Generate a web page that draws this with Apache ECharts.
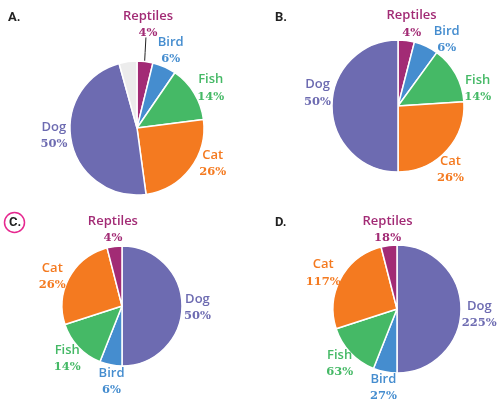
<!DOCTYPE html>
<html>
<head>
<meta charset="utf-8">
<script src="https://cdn.jsdelivr.net/npm/echarts@6/dist/echarts.min.js"></script>
<style>
  html, body { margin: 0; padding: 0; background: #fff; }
  #chart { width: 501px; height: 402px; }
</style>
</head>
<body>
<div id="chart"></div>
<script>
// Pet ownership shares, drawn four different ways
const petsA = ['Reptiles', 'Bird', 'Fish', 'Cat', 'Dog'];
const valuesA = [4, 6, 14, 26, 50];
const otherA = 4.5;            // unlabelled grey wedge in panel A

const petsB = ['Reptiles', 'Bird', 'Fish', 'Cat', 'Dog'];
const valuesB = [4, 6, 14, 26, 50];

const petsC = ['Dog', 'Bird', 'Fish', 'Cat', 'Reptiles'];
const valuesC = [50, 6, 14, 26, 4];

const petsD = ['Dog', 'Bird', 'Fish', 'Cat', 'Reptiles'];
const valuesD = [225, 27, 63, 117, 18];

const panelLetters = ['A.', 'B.', 'C.', 'D.'];

const COLORS = {
  Reptiles: '#a22b75',
  Bird: '#458dcf',
  Fish: '#45b966',
  Cat: '#f47a20',
  Dog: '#6d6bb1'
};
const OTHER_COLOR = '#ececec';

// Direction (degrees clockwise from 12 o'clock) in which each label sits
const labelDirA = [5.5, 24, 62, 115, 265];
const labelDirB = [8.4, 37, 78, 140, 279];
const labelDirC = [91.5, 188, 226.5, 292.6, 354];
const labelDirD = [94, 190, 227, 296.6, 354];

function pieSeries(names, values, center, radius, gap, labelDir, other, pointer) {
  const data = names.map((n, i) => {
    const item = {
      name: n,
      value: values[i],
      itemStyle: { color: COLORS[n] },
      label: { color: COLORS[n] }
    };
    if (pointer && pointer.name === n) {
      item.labelLine = { show: true, lineStyle: { color: '#222', width: 1 } };
    }
    return item;
  });
  if (other) {
    data.push({
      name: '', value: other,
      itemStyle: { color: OTHER_COLOR },
      label: { show: false }, labelLine: { show: false }
    });
  }
  const all = data.map(d => d.value);
  const total = all.reduce((a, b) => a + b, 0);
  const mids = [];
  let cum = 0;
  all.forEach(v => { mids.push((cum + v / 2) / total * Math.PI * 2); cum += v; });

  return {
    type: 'pie',
    center: center,
    radius: radius,
    startAngle: 90,
    clockwise: true,
    silent: true,
    animation: false,
    avoidLabelOverlap: false,
    itemStyle: { borderColor: '#fff', borderWidth: 1.5 },
    label: {
      show: true,
      position: 'outside',
      formatter: p => `{n|${p.name}}\n{p|${p.value}%}`,
      rich: {
        n: { fontFamily: 'Open Sans', fontWeight: 600, fontSize: 13, lineHeight: 17 },
        p: { fontFamily: 'DejaVu Serif', fontWeight: 'bold', fontSize: 11.5, lineHeight: 17 }
      }
    },
    labelLine: { show: false, length: 4, length2: 0 },
    labelLayout: params => {
      const i = params.dataIndex;
      const a = (labelDir && labelDir[i] != null) ? labelDir[i] * Math.PI / 180 : mids[i];
      const ux = Math.sin(a), uy = -Math.cos(a);
      const w = params.labelRect.width / 2, h = params.labelRect.height / 2;
      const isPointer = pointer && data[i].name === pointer.name;
      const g = gap + (isPointer ? pointer.extra : 0);
      const x = center[0] + ux * (radius + g) + ux * w;
      const y = center[1] + uy * (radius + g) + uy * h;
      const out = { x: x, y: y, align: 'center', verticalAlign: 'middle' };
      if (isPointer) {
        const m = mids[i];
        const sx = center[0] + Math.sin(m) * (radius - 6), sy = center[1] - Math.cos(m) * (radius - 6);
        const ex = x - 2, ey = y + h - 2;
        out.labelLinePoints = [[sx, sy], [(sx + ex) / 2, (sy + ey) / 2], [ex, ey]];
      }
      return out;
    },
    data: data
  };
}

const chart = echarts.init(document.getElementById('chart'), null, { renderer: 'canvas' });

const letterFont = { fontFamily: 'Roboto', fontWeight: 'bold', fontSize: 13, fill: '#222' };
const letterPos = [[8, 18], [275, 18], [9, 223], [275, 223]];

chart.setOption({
  backgroundColor: '#fff',
  animation: false,
  series: [
    pieSeries(petsA, valuesA, [137, 128], 67, 3, labelDirA, otherA, { name: 'Reptiles', extra: 19 }),
    pieSeries(petsB, valuesB, [398, 106], 66, 2, labelDirB, 0, null),
    pieSeries(petsC, valuesC, [122, 306], 60, 2, labelDirC, 0, null),
    pieSeries(petsD, valuesD, [397, 309], 64, 1, labelDirD, 0, null)
  ],
  graphic: [
    {
      type: 'circle', silent: true,
      shape: { cx: 14.5, cy: 222.5, r: 10 },
      style: { fill: 'none', stroke: '#e6288f', lineWidth: 1.5 }
    }
  ].concat(panelLetters.map((t, i) => ({
    type: 'text', silent: true,
    x: letterPos[i][0], y: letterPos[i][1],
    style: Object.assign({ text: t, verticalAlign: 'middle', align: 'left' }, letterFont)
  })))
});
</script>
</body>
</html>
